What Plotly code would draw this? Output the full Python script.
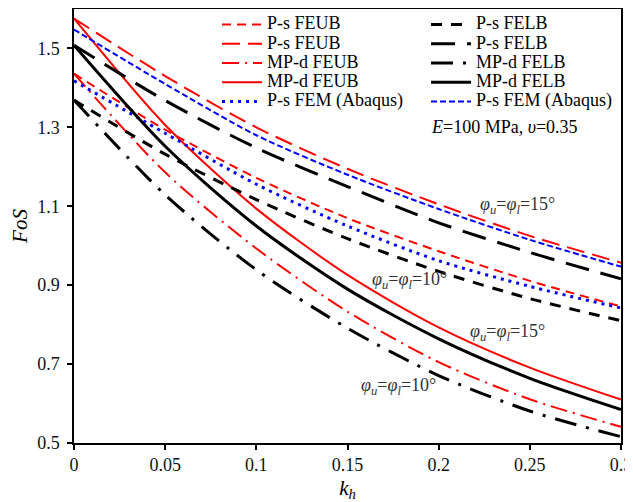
import plotly.graph_objects as go

# ---------------- data ----------------
kh = [0, 0.05, 0.1, 0.15, 0.2, 0.25, 0.3]

ps_feub_10 = [1.436, 1.294, 1.172, 1.070, 0.986, 0.911, 0.846]
ps_feub_15 = [1.576, 1.430, 1.300, 1.195, 1.105, 1.025, 0.957]
mpd_feub_10 = [1.436, 1.186, 0.993, 0.833, 0.705, 0.611, 0.541]
mpd_feub_15 = [1.576, 1.306, 1.094, 0.926, 0.793, 0.691, 0.610]
ps_fem_10 = [1.418, 1.285, 1.156, 1.050, 0.962, 0.897, 0.842]

ps_felb_10 = [1.369, 1.232, 1.117, 1.018, 0.935, 0.866, 0.810]
ps_felb_15 = [1.508, 1.368, 1.248, 1.150, 1.058, 0.983, 0.916]
mpd_felb_10 = [1.369, 1.129, 0.939, 0.791, 0.671, 0.581, 0.516]
mpd_felb_15 = [1.508, 1.252, 1.050, 0.890, 0.764, 0.664, 0.585]
ps_fem_15 = [1.548, 1.410, 1.280, 1.180, 1.093, 1.015, 0.947]

x_ticks = [0, 0.05, 0.1, 0.15, 0.2, 0.25, 0.3]
x_ticklabels = ["0", "0.05", "0.1", "0.15", "0.2", "0.25", "0.3"]
y_ticks = [0.5, 0.7, 0.9, 1.1, 1.3, 1.5]
y_ticklabels = ["0.5", "0.7", "0.9", "1.1", "1.3", "1.5"]

# ---------------- styles ----------------
RED = "#ff0000"
BLK = "#000000"
BLUE = "#0000ff"
FONT = "Liberation Serif"

def nm(s):
    return '<span style="font-size:18px">' + s + '</span>'

series = [
    # name, y, color, width, dash, legend
    ("P-s FEUB", ps_feub_10, RED, 2, "9px,6px", "legend"),
    ("P-s FEUB", ps_feub_15, RED, 2, "18px,8px", "legend"),
    ("MP-d FEUB", mpd_feub_10, RED, 2, "17px,6px,2px,6px", "legend"),
    ("MP-d FEUB", mpd_feub_15, RED, 2, "solid", "legend"),
    ("P-s FEM (Abaqus)", ps_fem_10, BLUE, 3, "3px,5px", "legend"),
    ("P-s FELB", ps_felb_10, BLK, 3, "11px,9px", "legend2"),
    ("P-s FELB", ps_felb_15, BLK, 3, "24px,12px", "legend2"),
    ("MP-d FELB", mpd_felb_10, BLK, 3, "22px,10px,3px,10px", "legend2"),
    ("MP-d FELB", mpd_felb_15, BLK, 3, "solid", "legend2"),
    ("P-s FEM (Abaqus)", ps_fem_15, BLUE, 2, "6px,3px", "legend2"),
]

fig = go.Figure()
for name, y, c, w, d, lg in series:
    fig.add_trace(go.Scatter(
        x=kh, y=y, mode="lines", name=nm(name),
        line=dict(color=c, width=w, dash=d, shape="spline", smoothing=0.8),
        legend=lg,
    ))

ann_font = dict(family=FONT, size=18, color="#333333")
labels = [
    (0.243, 1.101, "<i>φ</i><sub><i>u</i></sub>=<i>φ</i><sub><i>l</i></sub>=15°"),
    (0.184, 0.911, "<i>φ</i><sub><i>u</i></sub>=<i>φ</i><sub><i>l</i></sub>=10°"),
    (0.238, 0.779, "<i>φ</i><sub><i>u</i></sub>=<i>φ</i><sub><i>l</i></sub>=15°"),
    (0.178, 0.642, "<i>φ</i><sub><i>u</i></sub>=<i>φ</i><sub><i>l</i></sub>=10°"),
]
for ax, ay, t in labels:
    fig.add_annotation(x=ax, y=ay, text=t, showarrow=False, font=ann_font,
                       xanchor="center", yanchor="middle")

# plot area (on screen, page has an 8px body margin): x 74..621, y 9..443
fig.add_annotation(xref="paper", yref="paper", x=(429 - 74) / 547, y=(443 - 127) / 434,
                   text="<i>E</i>=100 MPa, <i>υ</i>=0.35", showarrow=False,
                   xanchor="left", yanchor="middle",
                   font=dict(family=FONT, size=18, color="#000000"))

legend_common = dict(font=dict(family=FONT, size=12.5, color="#000000"),
                     bgcolor="rgba(0,0,0,0)", borderwidth=0, itemwidth=40,
                     yanchor="top", xanchor="left", tracegroupgap=0)

fig.update_layout(
    width=625, height=494,
    margin=dict(l=66, r=12, t=1, b=59, autoexpand=False),
    paper_bgcolor="white", plot_bgcolor="white",
    font=dict(family=FONT, size=18, color="#000000"),
    legend=dict(x=(217 - 74) / 547, y=0.998, **legend_common),
    legend2=dict(x=(426 - 74) / 547, y=0.998, **legend_common),
    xaxis=dict(range=[0, 0.3], tickvals=x_ticks, ticktext=x_ticklabels,
               automargin=False,
               showgrid=False, zeroline=False, showline=True, linecolor="#000",
               linewidth=1.5, mirror=True, ticks="outside", ticklen=5,
               tickcolor="#000", tickwidth=1.5,
               tickfont=dict(family=FONT, size=18, color="#111"),
               title=dict(text="<i>k</i><sub><i>h</i></sub>",
                          font=dict(family=FONT, size=21), standoff=10)),
    yaxis=dict(range=[0.5, 1.6], tickvals=y_ticks, ticktext=y_ticklabels,
               automargin=False,
               showgrid=False, zeroline=False, showline=True, linecolor="#000",
               linewidth=1.5, mirror=True, ticks="outside", ticklen=5,
               tickcolor="#000", tickwidth=1.5, ticklabelstandoff=4,
               tickfont=dict(family=FONT, size=18, color="#111"),
               title=dict(text="<i>FoS</i>",
                          font=dict(family=FONT, size=21), standoff=4)),
)

fig.write_html("out.html")
